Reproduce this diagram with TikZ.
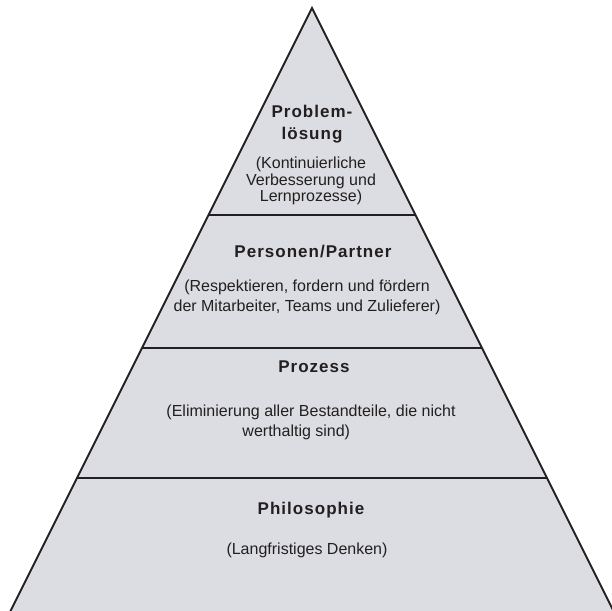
\documentclass[tikz,border=0pt]{standalone}
\usepackage{fontspec}
\setmainfont{Liberation Sans}
\newfontfamily\headfont[LetterSpace=6]{Liberation Sans}
\usetikzlibrary{calc}
\definecolor{ink}{HTML}{231F20}
\definecolor{layergray}{HTML}{DCDDE2}
\tikzset{
  layer/.style={fill=layergray, draw=none},
  edge/.style={draw=ink, line width=1.9pt, line join=miter},
  head/.style={font=\headfont\bfseries\fontsize{17}{22}\selectfont, align=center, text=ink, inner sep=0pt},
  desc/.style={font=\fontsize{16}{20}\selectfont, align=center, text=ink, inner sep=0pt}
}

\begin{document}
\begin{tikzpicture}[x=1pt, y=-1pt]
  \useasboundingbox (0,0) rectangle (612,610);

  % pyramid outline
  \coordinate (apex) at (312,8);
  \coordinate (baseL) at (10,612);
  \coordinate (baseR) at (614,612);
  \fill[layer] (apex) -- (baseL) -- (baseR) -- cycle;
  \draw[edge] (baseL) -- (apex) -- (baseR);

  % layer borders
  \coordinate (d1L) at (208.5,215); \coordinate (d1R) at (415.5,215);
  \coordinate (d2L) at (142,348);   \coordinate (d2R) at (482,348);
  \coordinate (d3L) at (77,478);    \coordinate (d3R) at (547,478);
  \draw[edge] (d1L) -- (d1R);
  \draw[edge] (d2L) -- (d2R);
  \draw[edge] (d3L) -- (d3R);

  % texts
  \node[head] (solveHead) at (312,124) {Problem-\\lösung};
  \node[desc, font=\fontsize{16}{16.5}\selectfont] (solveText) at (311,181) {(Kontinuierliche\\Verbesserung und\\Lernprozesse)};

  \node[head] (peopleHead) at (313,252) {Personen/Partner};
  \node[desc] (peopleText) at (307,297) {(Respektieren, fordern und fördern\\der Mitarbeiter, Teams und Zulieferer)};

  \node[head] (processHead) at (314,367) {Prozess};
  \node[desc, align=left] (processText) at (311,422) {(Eliminierung aller Bestandteile, die nicht\\\hspace*{76pt}werthaltig sind)};

  \node[head] (philoHead) at (311,510) {Philosophie};
  \node[desc] (philoText) at (307,550) {(Langfristiges Denken)};
\end{tikzpicture}
\end{document}
